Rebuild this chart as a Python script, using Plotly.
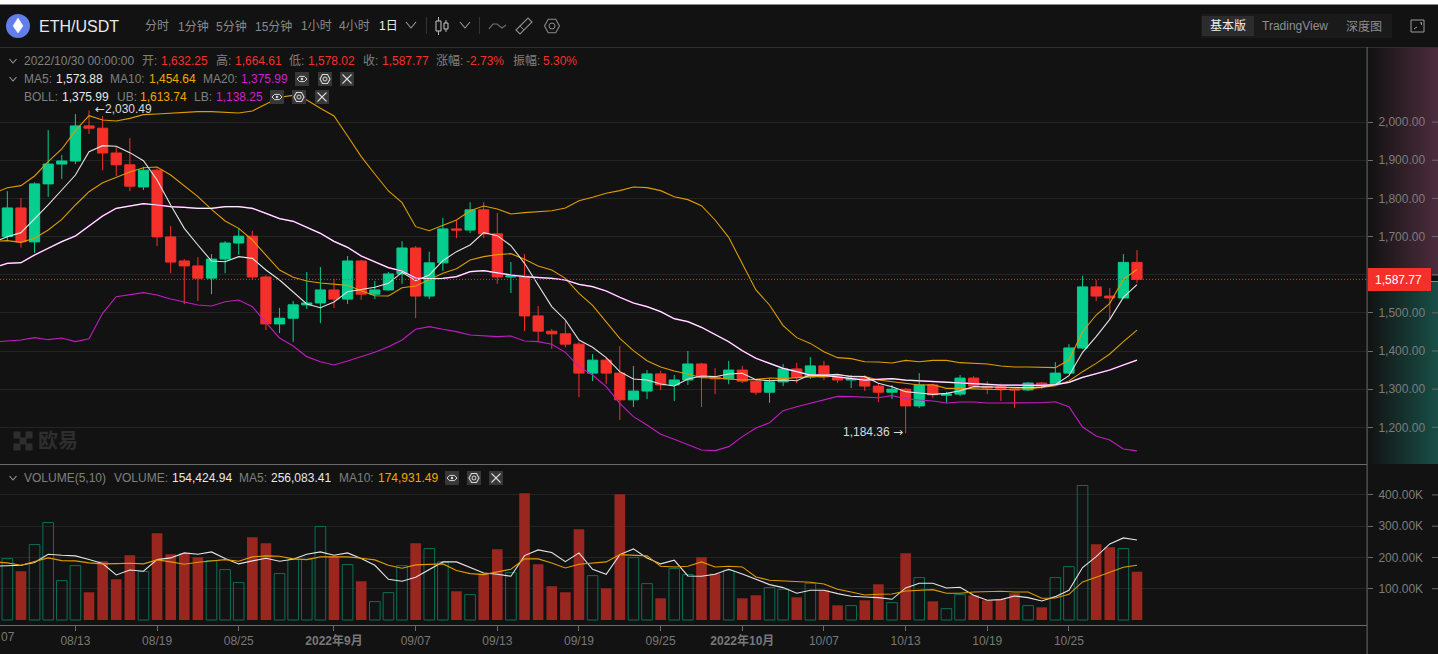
import base64
import pandas as pd
import plotly.graph_objects as go

W, H = 1438, 654

dates = pd.date_range("2022-08-07", "2022-10-30", freq="D")

# ---------- candles, 08/08 .. 10/30 ----------
opens = [1700,1775,1686,1838,1890,1898,1990,1984,1919,1888,1830,1874,1699,1636,1623,1591,1641,1683,1701,1594,1471,1486,1521,1526,
         1560,1536,1636,1549,1560,1602,1670,1544,1631,1720,1717,1770,1707,1594,1596,1492,1452,1445,1418,1342,1376,1342,1272,1295,1340,1311,1324,1366,1332,1327,
         1350,1321,1292,1319,1353,1332,1361,1332,1324,1329,1308,1292,1300,1256,1311,1284,1287,1329,1308,1306,1300,1298,1316,1314,1342,1408,1568,1544,1539,1632.25]
highs = [1819,1801,1842,1979,1914,2021,2030.49,2016,1936,1958,1883,1879,1728,1641,1646,1654,1688,1722,1715,1599,1513,1531,1607,1620,
         1589,1649,1639,1584,1607,1688,1675,1660,1749,1743,1790,1790,1762,1633,1654,1518,1458,1479,1424,1392,1382,1413,1361,1350,1348,1337,1400,1369,1355,1374,
         1361,1324,1327,1366,1369,1384,1374,1337,1337,1337,1314,1311,1303,1342,1314,1293,1337,1334,1321,1314,1301,1319,1319,1371,1418,1597,1586,1565,1654,1664.61]
lows = [1691,1671,1657,1804,1851,1890,1969,1874,1859,1819,1822,1675,1604,1523,1531,1549,1604,1652,1586,1455,1447,1424,1510,1473,
        1513,1523,1534,1536,1558,1576,1486,1536,1610,1696,1709,1696,1576,1552,1452,1424,1405,1410,1279,1321,1313,1219,1253,1274,1298,1269,1311,1253,1287,1313,
        1316,1285,1264,1308,1316,1327,1324,1316,1303,1295,1266,1274,1184.36,1251,1277,1264,1282,1306,1287,1269,1251,1295,1300,1311,1340,1405,1531,1481,1538,1578.02]
closes = [1775,1686,1838,1890,1898,1990,1984,1919,1888,1832,1874,1699,1633,1623,1591,1641,1683,1701,1594,1471,1486,1521,1526,1560,
          1536,1636,1549,1560,1602,1670,1544,1631,1720,1717,1770,1707,1594,1597,1492,1452,1445,1418,1342,1376,1342,1272,1295,1340,1311,1324,1366,1332,1327,1350,
          1321,1292,1319,1353,1332,1361,1332,1324,1327,1308,1292,1300,1256,1311,1285,1287,1329,1308,1303,1300,1298,1316,1308,1342,1408,1568,1544,1539,1632.25,1587.77]

# ---------- price indicators, 08/07 .. 10/30 ----------
ma5 = [1685,1699.7,1710.2,1745.1,1782.7,1822,1861.3,1922.5,1938.2,1936.5,1919.9,1898.9,1848.2,1782.7,1721.5,1677.8,1635.9,1634.1,1647.3,1642.9,1612.3,1586.1,1555.5,1523.2,1513.6,
       1528.4,1555.5,1561.6,1566.9,1577.4,1606.2,1584.4,1599.2,1636.8,1660.4,1677.8,1710.2,1702.3,1676.1,1629.8,1573,1516.2,1481.3,1428.8,1409.6,1382.5,1345.8,1326.6,1324,1313.5,1308.3,1326.6,1334.5,1332.7,1339.7,
       1341.5,1324.9,1322.2,1324,1322.2,1337.9,1337,1338.8,1332.7,1332.7,1315.2,1306.5,1293.4,1289.9,1286.4,1289,1296,1306.5,1305.6,1303.9,1303.9,1303.9,1305.6,1311.7,1335.3,1396.5,1437.5,1483,1540.6,1573.88]
ma10 = [1687.5,1689.2,1684.8,1695.3,1717.2,1745.1,1782.7,1817.6,1841.2,1855.2,1869.2,1880.5,1882.3,1861.3,1832.5,1804.5,1771.3,1740.7,1721.5,1690.9,1651.6,1612.3,1593.1,1583.5,1578.2,
        1574.7,1572.1,1558.1,1545,1544.2,1566,1570.4,1586.1,1603.6,1615.8,1638.5,1647.3,1652.5,1655.1,1640.3,1622.8,1612.3,1590.5,1551.2,1519.7,1475.1,1433.2,1400.9,1374.7,1358.1,1347.6,1339.7,1330.1,1329.2,1326.6,
        1324,1325.7,1329.2,1327.5,1331,1332.7,1332.7,1337,1334.4,1332.7,1323.9,1319.6,1315.2,1310.8,1311.7,1302.1,1302.1,1300.4,1299.5,1298.6,1300.4,1300.4,1304.7,1309.1,1321.3,1345.8,1367.6,1392.1,1424.4,1454.64]
ma20 = [1618.4,1629.8,1631.5,1651.6,1669.1,1686.6,1701.4,1727.6,1753.9,1773.9,1779.2,1786.2,1782.7,1778.3,1776.6,1773.9,1773.9,1778.3,1778.3,1773.9,1760.8,1746.9,1739.9,1724.1,1708.4,
        1687.4,1671.7,1649,1634.1,1618.4,1609.7,1591.3,1589.6,1590.5,1594.8,1607.9,1610.6,1604.4,1599.2,1594.8,1593.1,1590.5,1586.1,1574.7,1568.6,1557.3,1540.7,1525.8,1516.2,1503.1,1484.7,1476.9,1462,1443.7,1424.5,
        1400.9,1380.8,1367.7,1354.6,1345.8,1337,1336.2,1332.7,1328.3,1323.9,1325.7,1327.4,1323.9,1322.2,1321.3,1319.6,1317,1314.3,1312.6,1310.8,1310,1309.1,1310,1311.7,1317.8,1330.9,1341.4,1350.2,1363.3,1375.99]
boll_mid = list(ma20)
boll_ub = [1813.3,1828.1,1833.4,1858.7,1896.3,1929.5,1977.5,2016.8,2005.5,2002.9,2009.8,2019.5,2021.2,2023.8,2026.4,2027.3,2027.3,2024.7,2023.8,2029.1,2047.4,2064.9,2070.1,2057.9,2036.1,
           2016,1963.5,1909.4,1863.9,1819.4,1788.8,1725.9,1715.4,1730.3,1743.4,1767.8,1780.1,1772.2,1759.1,1762.6,1765.2,1767.8,1774.8,1794,1802.8,1813.3,1820.3,1829.9,1828.1,1820.3,1804.5,1796.7,1780.9,1743.4,1697.9,
           1628,1559.9,1520.6,1466.4,1435,1420,1398.2,1382.5,1379.9,1372,1371.1,1368.5,1375.5,1372,1375.5,1375.5,1369.4,1366.8,1365.9,1360.6,1358,1358,1358,1356.3,1376.4,1450.6,1494.3,1524.9,1587.8,1613.74]
boll_lb = [1423.6,1427.1,1428.8,1435,1429.7,1434,1424.5,1432.3,1498.7,1542.4,1547.7,1552.9,1546.8,1536.3,1528.4,1520.6,1518,1529.3,1533.7,1516.2,1474.3,1434.1,1413.1,1385.2,1372,
           1363.3,1373.8,1385.2,1396.5,1411.4,1428.8,1456.8,1463.8,1456.8,1450.7,1441.9,1439.3,1437.6,1439.3,1426.2,1424.5,1417.5,1396.5,1358.9,1337.1,1306.5,1262.8,1227.9,1206,1181.6,1168.5,1153.6,1140.5,1138.8,1149.3,
           1175.5,1198.2,1212.1,1243.6,1254.1,1262.8,1273.3,1281.1,1280.3,1278.5,1277.6,1282.9,1275,1271.5,1268.9,1263.7,1266.3,1266.3,1263.7,1263.7,1263.7,1263.7,1264.5,1267.1,1254,1200.8,1177.2,1166.7,1143.1,1138.25]

# ---------- volume, in thousands, 08/07 .. 10/30 ----------
volume = [190,196.4,155.9,241.3,311.7,126,174,88.6,187.9,130.2,207.1,154.8,277.6,210.3,213.5,200.7,190,161.2,119.6,264.8,245.5,148.4,193.2,194.3,298.9,
          202.8,177.2,123.8,58.7,87.5,174,245.5,228.5,185.8,91.8,81.1,148.4,226.3,151.6,405.7,178.3,107.8,88.6,290.4,142,
          101.4,402.5,199.6,116.4,69.4,164.4,145.2,200.7,148.4,159,
          69.4,79,103.6,98.2,72.6,117.4,95,47,45.9,63,114.2,55.5,213.5,135.6,59.8,36.3,81.1,79,63,66.2,85.4,45.9,40.6,135.6,170.8,430.2,242.3,232.7,228.5,154.42]
volume_up = [1,1,0,1,1,1,1,0,0,0,0,1,0,0,0,0,1,1,1,0,0,1,1,1,1,
             0,1,0,1,1,1,0,1,1,0,1,0,0,1,0,0,0,0,0,1,
             0,0,1,1,0,1,1,0,0,1,
             0,0,1,1,0,1,0,0,1,0,0,1,0,1,0,1,1,0,0,0,0,1,0,1,1,1,0,0,1,0]
vol_ma5 = [171.9,173,175.1,183.6,210.3,207.1,205,193.2,180.4,144.1,160.1,155.9,193.2,198.6,214.6,210.3,217.8,196.4,179.4,189,197.5,187.9,194.3,210.3,217.8,
           207.1,214.6,196.4,175.1,130.2,123.8,136.7,161.2,185.8,185.8,168.7,150.5,146.3,139.9,206,224.2,215.7,186.8,214.6,162.3,
           146.3,209.2,227.4,198.6,179.4,191.1,140.9,139.9,146.3,162.3,
           147.3,130.2,113.2,103.6,85.4,95,95,84.3,75.8,73.7,71.5,66.2,102.5,117.4,117.4,102.5,104.6,79,63,65.1,76.9,71.5,60.9,74.7,95,167.6,202.8,243.4,262.6,256.08]
vol_ma10 = [185.8,182.6,175.1,185.8,198.6,190,189,182.6,179.4,180.4,181.5,179.4,192.2,185.8,178.3,184.7,187.9,193.2,187.9,201.8,205,203.9,195.4,193.2,201.8,
            202.8,201.8,197.5,192.2,175.1,165.5,176.2,178.3,179.4,158,148.4,145.2,153.7,162.3,195.4,195.4,182.6,166.5,178.3,181.5,
            185.8,209.2,207.1,205,171.9,169.7,171.9,185.8,169.7,171.9,
            169.7,137.7,127,124.9,123.8,120.6,115.3,98.2,89.7,80.1,82.2,83.3,92.9,96.1,97.2,85.4,85.4,89.7,91.8,91.8,89.7,89.7,69.4,70.5,82.2,121.7,136.7,152.7,168.7,174.93]

price_ticks = [1200,1300,1400,1500,1600,1700,1800,1900,2000]
price_tick_labels = ["1,200.00","1,300.00","1,400.00","1,500.00","","1,700.00","1,800.00","1,900.00","2,000.00"]
vol_ticks = [100,200,300,400]
vol_tick_labels = ["100.00K","200.00K","300.00K","400.00K"]
date_ticks = ["2022-08-13","2022-08-19","2022-08-25","2022-09-01","2022-09-07","2022-09-13","2022-09-19","2022-09-25",
              "2022-10-01","2022-10-07","2022-10-13","2022-10-19","2022-10-25"]
date_tick_labels = ["08/13","08/19","08/25","<b>2022年9月</b>","09/07","09/13","09/19","09/25",
                    "<b>2022年10月</b>","10/07","10/13","10/19","10/25"]
last_close = closes[-1]

# ---------- palette ----------
BG = "#121212"
UP = "#05CE8F"
DOWN = "#F5302A"
WHITE_LINE = "#E4E4E4"
GOLD = "#DE9C00"
MAGENTA = "#C21CC2"
GREY = "#808080"
GRID = "#242424"
AXIS = "#6A6A6A"
FONT = "Liberation Sans, Noto Sans CJK SC, sans-serif"

fig = go.Figure()

# volume
fig.add_trace(go.Bar(x=dates, y=volume, xaxis="x2", yaxis="y2", width=0.78 * 86400000,
                     marker=dict(color=["rgba(0,0,0,0)" if u else "#9A2620" for u in volume_up],
                                 line=dict(color=["#0B6F55" if u else "rgba(0,0,0,0)" for u in volume_up],
                                           width=[1 if u else 0 for u in volume_up]))))
fig.add_trace(go.Scatter(x=dates, y=vol_ma5, xaxis="x2", yaxis="y2", mode="lines", line=dict(color=WHITE_LINE, width=1.1)))
fig.add_trace(go.Scatter(x=dates, y=vol_ma10, xaxis="x2", yaxis="y2", mode="lines", line=dict(color=GOLD, width=1.1)))

# candles
fig.add_trace(go.Candlestick(x=dates[1:], open=opens, high=highs, low=lows, close=closes, whiskerwidth=0,
                             increasing=dict(line=dict(color=UP, width=1), fillcolor=UP),
                             decreasing=dict(line=dict(color=DOWN, width=1), fillcolor=DOWN)))
# price indicators
for series, colour, width in [(boll_ub, GOLD, 1.1), (boll_lb, MAGENTA, 1.1), (ma10, GOLD, 1.1), (ma20, MAGENTA, 1.5),
                              (boll_mid, "#FAF2FA", 1.2), (ma5, WHITE_LINE, 1.1)]:
    fig.add_trace(go.Scatter(x=dates, y=series, mode="lines", line=dict(color=colour, width=width)))

# ---------- pixel helpers for page furniture ----------
shapes, anns = [], []


def fx(x):
    return x / W


def fy(y):
    return 1 - y / H


def rect(x0, y0, x1, y1, fill, layer="above", line=None):
    shapes.append(dict(type="rect", xref="paper", yref="paper", x0=fx(x0), x1=fx(x1), y0=fy(y1), y1=fy(y0),
                       fillcolor=fill, line=dict(width=0 if line is None else 1, color=line or fill), layer=layer))


def path(points, colour, width=1.2, close=False, fill=None):
    d = "M " + " L ".join(f"{fx(x):.5f},{fy(y):.5f}" for x, y in points) + (" Z" if close else "")
    shapes.append(dict(type="path", xref="paper", yref="paper", path=d, fillcolor=fill,
                       line=dict(color=colour, width=width), layer="above"))


def circle(cx, cy, r, colour, fill=None, width=1.2):
    shapes.append(dict(type="circle", xref="paper", yref="paper", x0=fx(cx - r), x1=fx(cx + r), y0=fy(cy + r), y1=fy(cy - r),
                       line=dict(color=colour, width=width), fillcolor=fill, layer="above"))


def text(x, y, s, colour=GREY, size=12, anchor="left", family=FONT):
    if anchor == "left":
        x -= 1
    anns.append(dict(xref="paper", yref="paper", x=fx(x), y=fy(y), text=s, showarrow=False, xanchor=anchor, yanchor="middle",
                     align=anchor, borderpad=0, font=dict(color=colour, size=size, family=family)))


def chevron(x, y, half=4, drop=2.5, colour="#9A9A9A"):
    path([(x - half, y - drop), (x, y + drop), (x + half, y - drop)], colour, 1.1)


def gear(x, y, r, colour):
    path([(x - r, y), (x - r / 2, y - r * 0.9), (x + r / 2, y - r * 0.9), (x + r, y), (x + r / 2, y + r * 0.9), (x - r / 2, y + r * 0.9)],
         colour, 1.1, close=True)
    circle(x, y, r * 0.4, colour, width=1)


def tools(xs, y):
    x = xs[0]
    rect(x - 7, y - 7, x + 7, y + 7, "#383838")
    path([(x - 5, y), (x - 2.5, y - 2.6), (x + 2.5, y - 2.6), (x + 5, y), (x + 2.5, y + 2.6), (x - 2.5, y + 2.6)], "#D8D8D8", 1, close=True)
    circle(x, y, 1.2, "#D8D8D8", fill="#D8D8D8", width=0)
    x = xs[1]
    rect(x - 7, y - 7, x + 7, y + 7, "#383838")
    gear(x, y, 5, "#D8D8D8")
    x = xs[2]
    rect(x - 7, y - 7, x + 7, y + 7, "#383838")
    path([(x - 4.5, y - 4.5), (x + 4.5, y + 4.5)], "#D8D8D8", 1.1)
    path([(x - 4.5, y + 4.5), (x + 4.5, y - 4.5)], "#D8D8D8", 1.1)


# white strip and rules
rect(0, 0, W, 4.5, "#FFFFFF")
rect(0, 47, W, 48, "#2E2E2E")
rect(1366.6, 47, 1367.6, H, AXIS)

# header
circle(18, 26, 12, "#627EEA", fill="#627EEA", width=0)
path([(18, 18), (23, 26), (18, 33), (13, 26)], "#FFFFFF", 0.5, close=True, fill="#FFFFFF")
text(39, 26, "ETH/USDT", "#E8E8E8", 16)
for x, s in [(145, "分时"), (178, "1分钟"), (216, "5分钟"), (255, "15分钟"), (301, "1小时"), (339, "4小时")]:
    text(x, 26, s, "#8A8A8A", 12)
text(379, 26, "1日", "#F0F0F0", 12)
chevron(411, 25, 5, 3)
rect(426, 17, 427, 34, "#333333")
path([(438.5, 26 - 9), (438.5, 26 + 9)], "#B8B8B8", 1)
rect(436, 21, 441, 31, BG, line="#C8C8C8")
path([(446, 26 - 6), (446, 26 + 6)], "#B8B8B8", 1)
rect(444, 23, 448, 29, BG, line="#C8C8C8")
chevron(465, 25, 5, 3)
rect(479, 17, 480, 34, "#333333")
path([(489, 29), (493, 24), (497, 24), (502, 28), (506, 25)], "#6E6E6E", 1.2)
path([(516, 30), (528, 18), (532, 22), (520, 34)], "#8A8A8A", 1.2, close=True)
path([(520, 26), (524, 30)], "#8A8A8A", 1)
gear(552, 26, 7.5, "#8A8A8A")

rect(1201, 14, 1392, 38, "#1A1A1A")
rect(1202, 16, 1254, 36, "#2C2C2C")
text(1210, 26, "基本版", "#F0F0F0", 12)
text(1262, 26, "TradingView", "#8E8E8E", 12)
text(1346, 26, "深度图", "#8E8E8E", 12)
rect(1411, 20, 1424, 32, BG, line="#9A9A9A")
path([(1420, 23), (1421.5, 22.5), (1421.5, 25)], "#9A9A9A", 1)
path([(1414, 29), (1417, 27)], "#9A9A9A", 1)

# info rows
chevron(13, 61, 3.5, 2)
text(24, 61, "2022/10/30 00:00:00")
for x, s in [(142, "开:"), (216, "高:"), (289, "低:"), (363, "收:"), (436, "涨幅:"), (513, "振幅:")]:
    text(x, 61, s)
for x, s in [(161, "1,632.25"), (235, "1,664.61"), (308, "1,578.02"), (382, "1,587.77"), (466, "-2.73%"), (543, "5.30%")]:
    text(x, 61, s, DOWN)
chevron(13, 79, 3.5, 2)
text(24, 79, "MA5:")
text(56, 79, "1,573.88", "#E8E8E8")
text(110, 79, "MA10:")
text(149, 79, "1,454.64", "#F0A800")
text(203, 79, "MA20:")
text(241, 79, "1,375.99", "#D020D0")
tools([302, 325, 347], 79)
text(24, 97, "BOLL:")
text(62, 97, "1,375.99", "#E8E8E8")
text(117, 97, "UB:")
text(140, 97, "1,613.74", "#F0A800")
text(194, 97, "LB:")
text(216, 97, "1,138.25", "#D020D0")
tools([277, 299, 322], 97)
chevron(13, 478, 3.5, 2)
text(24, 478, "VOLUME(5,10)")
text(114, 478, "VOLUME:")
text(172, 478, "154,424.94", "#E8E8E8")
text(239, 478, "MA5:")
text(271, 478, "256,083.41", "#E8E8E8")
text(339, 478, "MA10:")
text(378, 478, "174,931.49", "#F0A800")
tools([452, 474, 496], 478)

# watermark
for cx, cy in [(17, 435), (29, 435), (23, 441), (17, 447), (29, 447)]:
    rect(cx - 3.5, cy - 3.5, cx + 3.5, cy + 3.5, "#2E2E2E", layer="below")
text(38, 441, "<b>欧易</b>", "#2E2E2E", 20)

# last price marker
shapes.append(dict(type="line", xref="paper", yref="y", x0=0, x1=fx(1367), y0=last_close, y1=last_close,
                   line=dict(color=DOWN, width=1, dash="1px,2px"), layer="above"))
rect(1368, 268, 1431, 291, "#F5302A")
text(1398.5, 279.5, "1,587.77", "#FFFFFF", 12, "center")
rect(1431, 281, W, 282, UP, layer="below")

# right-hand dashes beside the axis labels
for t in price_ticks:
    shapes.append(dict(type="line", xref="paper", yref="y", x0=fx(1432), x1=1, y0=t, y1=t, line=dict(color=AXIS, width=1), layer="above"))
for t in vol_ticks:
    shapes.append(dict(type="line", xref="paper", yref="y2", x0=fx(1432), x1=1, y0=t, y1=t, line=dict(color=AXIS, width=1), layer="above"))


# extreme labels tied to the data
def mark(day, value, s, xshift, anchor, family=FONT):
    anns.append(dict(xref="x", yref="y", x=day, y=value, text=s, showarrow=False, xanchor=anchor, yanchor="middle",
                     xshift=xshift, yshift=1, borderpad=0, font=dict(color="#DADADA", size=12, family=family)))


mark(dates[7], highs[6], "2,030.49", 15, "left")
mark(dates[7], highs[6], "←", 5, "left", "DejaVu Sans")
mark(dates[67], lows[66], "1,184.36", -15, "right")
mark(dates[67], lows[66], "→", -2, "right", "DejaVu Sans")
text(1, 637, "07", "#787878", 12)


def gradient(colour):
    svg = (f'<svg xmlns="http://www.w3.org/2000/svg" width="70" height="10" preserveAspectRatio="none">'
           f'<defs><linearGradient id="g"><stop offset="0" stop-color="{colour}" stop-opacity="0"/>'
           f'<stop offset="1" stop-color="{colour}" stop-opacity="1"/></linearGradient></defs>'
           f'<rect width="70" height="10" fill="url(#g)"/></svg>')
    return "data:image/svg+xml;base64," + base64.b64encode(svg.encode()).decode()


images = [
    dict(source=gradient("#4D2C3D"), xref="paper", yref="paper", x=fx(1368), y=fy(48), sizex=fx(70), sizey=(276 - 48) / H,
         sizing="stretch", xanchor="left", yanchor="top", layer="below"),
    dict(source=gradient("#184F47"), xref="paper", yref="paper", x=fx(1368), y=fy(281), sizex=fx(70), sizey=(464 - 281) / H,
         sizing="stretch", xanchor="left", yanchor="top", layer="below"),
]

base = pd.Timestamp("2022-10-30")
xrange = [str(base - pd.Timedelta(days=83.54)), str(base + pd.Timedelta(days=16.9))]
xdomain = [0, 1367 / W]

fig.update_layout(
    width=W, height=H, margin=dict(l=0, r=0, t=0, b=0), autosize=False,
    paper_bgcolor=BG, plot_bgcolor=BG, showlegend=False, boxgap=0.25, boxgroupgap=0, bargap=0.2,
    font=dict(family=FONT, color="#787878", size=12),
    shapes=shapes, annotations=anns, images=images, hovermode=False,
    xaxis=dict(type="date", domain=xdomain, range=xrange, anchor="y", showgrid=False, showticklabels=False, ticks="",
               showline=True, linecolor=AXIS, linewidth=1, rangeslider=dict(visible=False), zeroline=False),
    yaxis=dict(domain=[fy(464), fy(48)], range=[1103.8, 2194.2], anchor="x", side="right", tickmode="array",
               tickvals=price_ticks, ticktext=price_tick_labels, gridcolor=GRID, gridwidth=1, zeroline=False,
               ticks="outside", ticklen=5, tickcolor=AXIS, ticklabelstandoff=3, showline=False,
               tickfont=dict(color="#7C7C7C", size=12)),
    xaxis2=dict(type="date", domain=xdomain, range=xrange, anchor="y2", showgrid=False, tickmode="array",
                tickvals=date_ticks, ticktext=date_tick_labels, ticks="outside", ticklen=5, tickcolor=AXIS,
                showline=True, linecolor=AXIS, linewidth=1, zeroline=False, tickangle=0,
                tickfont=dict(color="#787878", size=12)),
    yaxis2=dict(domain=[fy(625), fy(465)], range=[-16, 495.7], anchor="x2", side="right", tickmode="array",
                tickvals=vol_ticks, ticktext=vol_tick_labels, gridcolor=GRID, gridwidth=1, zeroline=False,
                ticks="outside", ticklen=5, tickcolor=AXIS, ticklabelstandoff=3, showline=False,
                tickfont=dict(color="#7C7C7C", size=12)),
)

fig.write_html("out.html", config=dict(displayModeBar=False),
               post_script="document.body.style.margin='0';document.body.style.background='#121212';")
